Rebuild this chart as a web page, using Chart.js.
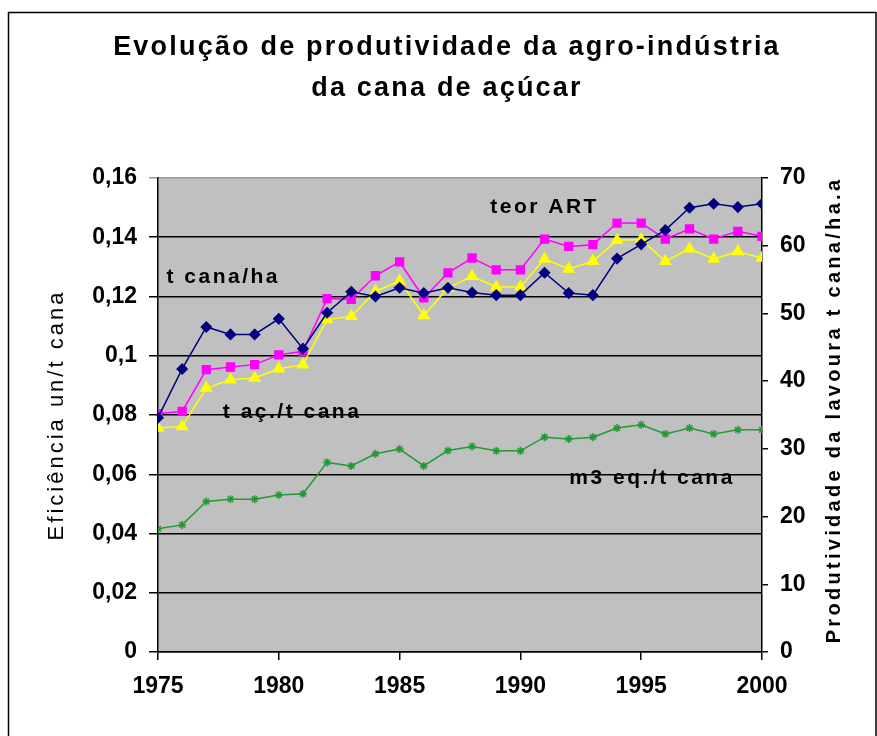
<!DOCTYPE html>
<html lang="pt">
<head>
  <meta charset="UTF-8" />
  <title>Evolução de produtividade da agro-indústria da cana de açúcar</title>
  <script src="https://cdn.jsdelivr.net/npm/chart.js"></script>
  <style>
    body {
      margin: 0;
      background: #fff;
    }
    canvas {
      display: block;
    }
  </style>
</head>
<body>
  <canvas id="chart" width="877" height="736"></canvas>

  <script>
    const years = [1975, 1976, 1977, 1978, 1979, 1980, 1981, 1982, 1983, 1984, 1985, 1986, 1987,
                   1988, 1989, 1990, 1991, 1992, 1993, 1994, 1995, 1996, 1997, 1998, 1999, 2000];

    // right axis (t cana/ha.a)
    const tCanaHa = [34.6, 41.8, 48.0, 46.9, 46.9, 49.2, 44.8, 50.1, 53.2, 52.5, 53.8, 53.0, 53.8,
                     53.1, 52.7, 52.7, 56.0, 53.0, 52.7, 58.1, 60.2, 62.3, 65.6, 66.2, 65.7, 66.2];

    // left axis (un/t cana)
    const teorArt = [0.0805, 0.0812, 0.0953, 0.0962, 0.097, 0.1003, 0.1015, 0.1193, 0.119, 0.127, 0.1317, 0.1195, 0.128,
                     0.133, 0.129, 0.129, 0.1394, 0.1369, 0.1375, 0.1448, 0.1448, 0.1394, 0.1428, 0.1394, 0.142, 0.1403];
    const tAcucar = [0.0756, 0.0761, 0.0891, 0.0919, 0.0925, 0.0956, 0.097, 0.1122, 0.1133, 0.1217, 0.1253, 0.1136, 0.1229,
                     0.1268, 0.1232, 0.1232, 0.1327, 0.1293, 0.1319, 0.139, 0.1392, 0.1319, 0.1361, 0.1327, 0.1352, 0.133];
    const m3Eq = [0.0416, 0.0429, 0.0508, 0.0516, 0.0516, 0.053, 0.0534, 0.064, 0.0628, 0.0669, 0.0685, 0.0628, 0.068,
                  0.0694, 0.0679, 0.0679, 0.0725, 0.0719, 0.0725, 0.0756, 0.0767, 0.0736, 0.0756, 0.0736, 0.075, 0.075];

    // text labels inside the plot (year, left-axis value)
    const noteText = ['teor ART', 't cana/ha', 't aç./t cana', 'm3 eq./t cana'];
    const noteYear = [1991.0, 1977.7, 1980.55, 1995.45];
    const noteValue = [0.150, 0.1264, 0.0811, 0.0588];

    const titleLines = ['Evolução de produtividade da agro-indústria', 'da cana de açúcar'];
    const leftTitle = 'Eficiência un/t cana';
    const rightTitle = 'Produtividade da lavoura t cana/ha.a';

    const FONT = "'Liberation Sans', Arial, sans-serif";

    function points(vals) {
      return years.map((yr, i) => ({ x: yr, y: vals[i] }));
    }

    const decor = {
      id: 'decor',
      beforeDraw(chart) {
        const { ctx, chartArea: a } = chart;
        ctx.save();
        ctx.fillStyle = '#c0c0c0';
        ctx.fillRect(a.left, a.top, a.right - a.left, a.bottom - a.top);
        ctx.restore();
      },
      afterDraw(chart) {
        const { ctx, scales } = chart;
        ctx.save();
        // outer frame
        ctx.strokeStyle = '#000';
        ctx.lineWidth = 1.5;
        ctx.strokeRect(8.5, 12.5, 867.5, 740);

        ctx.fillStyle = '#000';
        ctx.textAlign = 'center';
        ctx.textBaseline = 'middle';

        ctx.font = 'bold 27px ' + FONT;
        ctx.letterSpacing = '2.2px';
        ctx.fillText(titleLines[0], 447, 48);
        ctx.fillText(titleLines[1], 447, 89);

        ctx.font = '22px ' + FONT;
        ctx.letterSpacing = '3px';
        ctx.save();
        ctx.translate(57, 415);
        ctx.rotate(-Math.PI / 2);
        ctx.fillText(leftTitle, 0, 0);
        ctx.restore();

        ctx.font = 'bold 20px ' + FONT;
        ctx.letterSpacing = '3.3px';
        ctx.save();
        ctx.translate(834, 410);
        ctx.rotate(-Math.PI / 2);
        ctx.fillText(rightTitle, 0, 0);
        ctx.restore();

        ctx.font = 'bold 21px ' + FONT;
        ctx.letterSpacing = '2.5px';
        noteText.forEach((t, i) => {
          ctx.fillText(t, scales.x.getPixelForValue(noteYear[i]), scales.y.getPixelForValue(noteValue[i]));
        });
        ctx.restore();
      }
    };

    const tickFont = { family: FONT, size: 23, weight: 'bold' };

    new Chart(document.getElementById('chart'), {
      type: 'line',
      data: {
        datasets: [
          {
            label: 't cana/ha',
            data: points(tCanaHa),
            yAxisID: 'y1',
            borderColor: '#000080',
            backgroundColor: '#000080',
            pointStyle: 'rectRot',
            pointRadius: 5,
            borderWidth: 1.5,
            tension: 0
          },
          {
            label: 'teor ART',
            data: points(teorArt),
            yAxisID: 'y',
            borderColor: '#ff00ff',
            backgroundColor: '#ff00ff',
            pointStyle: 'rect',
            pointRadius: 5.5,
            borderWidth: 1.5,
            tension: 0
          },
          {
            label: 't aç./t cana',
            data: points(tAcucar),
            yAxisID: 'y',
            borderColor: '#ffff00',
            backgroundColor: '#ffff00',
            pointStyle: 'triangle',
            pointRadius: 6,
            borderWidth: 1.5,
            tension: 0
          },
          {
            label: 'm3 eq./t cana',
            data: points(m3Eq),
            yAxisID: 'y',
            borderColor: '#229a33',
            backgroundColor: '#229a33',
            pointStyle: 'star',
            pointRadius: 4,
            borderWidth: 1.5,
            tension: 0
          }
        ]
      },
      options: {
        responsive: false,
        animation: false,
        layout: { padding: { top: 178, left: 0, right: 0, bottom: 0 } },
        plugins: {
          legend: { display: false },
          title: { display: false },
          tooltip: { enabled: false }
        },
        scales: {
          x: {
            type: 'linear',
            min: 1975,
            max: 2000,
            afterFit(s) { s.height = 84; },
            border: { color: '#000', width: 1.5 },
            grid: { drawOnChartArea: false, drawTicks: true, tickLength: 8, color: '#000', lineWidth: 1.5 },
            ticks: {
              stepSize: 5,
              padding: 13,
              color: '#000',
              font: tickFont,
              callback: v => String(v)
            }
          },
          y: {
            position: 'left',
            min: 0,
            max: 0.16,
            afterFit(s) { s.width = 158; },
            border: { color: '#000', width: 1.5 },
            grid: {
              color: ctx => (ctx.tick && ctx.tick.value >= 0.16 ? '#9a9a9a' : '#000'),
              lineWidth: 1.5,
              tickLength: 9
            },
            ticks: {
              stepSize: 0.02,
              padding: 12,
              color: '#000',
              font: tickFont,
              callback: v => (v === 0 ? '0' : String(+v.toFixed(2)).replace('.', ','))
            }
          },
          y1: {
            position: 'right',
            min: 0,
            max: 70,
            afterFit(s) { s.width = 115; },
            border: { color: '#000', width: 1.5 },
            grid: { drawOnChartArea: false, color: '#000', lineWidth: 1.5, tickLength: 6 },
            ticks: {
              stepSize: 10,
              padding: 12,
              color: '#000',
              font: tickFont
            }
          }
        }
      },
      plugins: [decor]
    });
  </script>
</body>
</html>
